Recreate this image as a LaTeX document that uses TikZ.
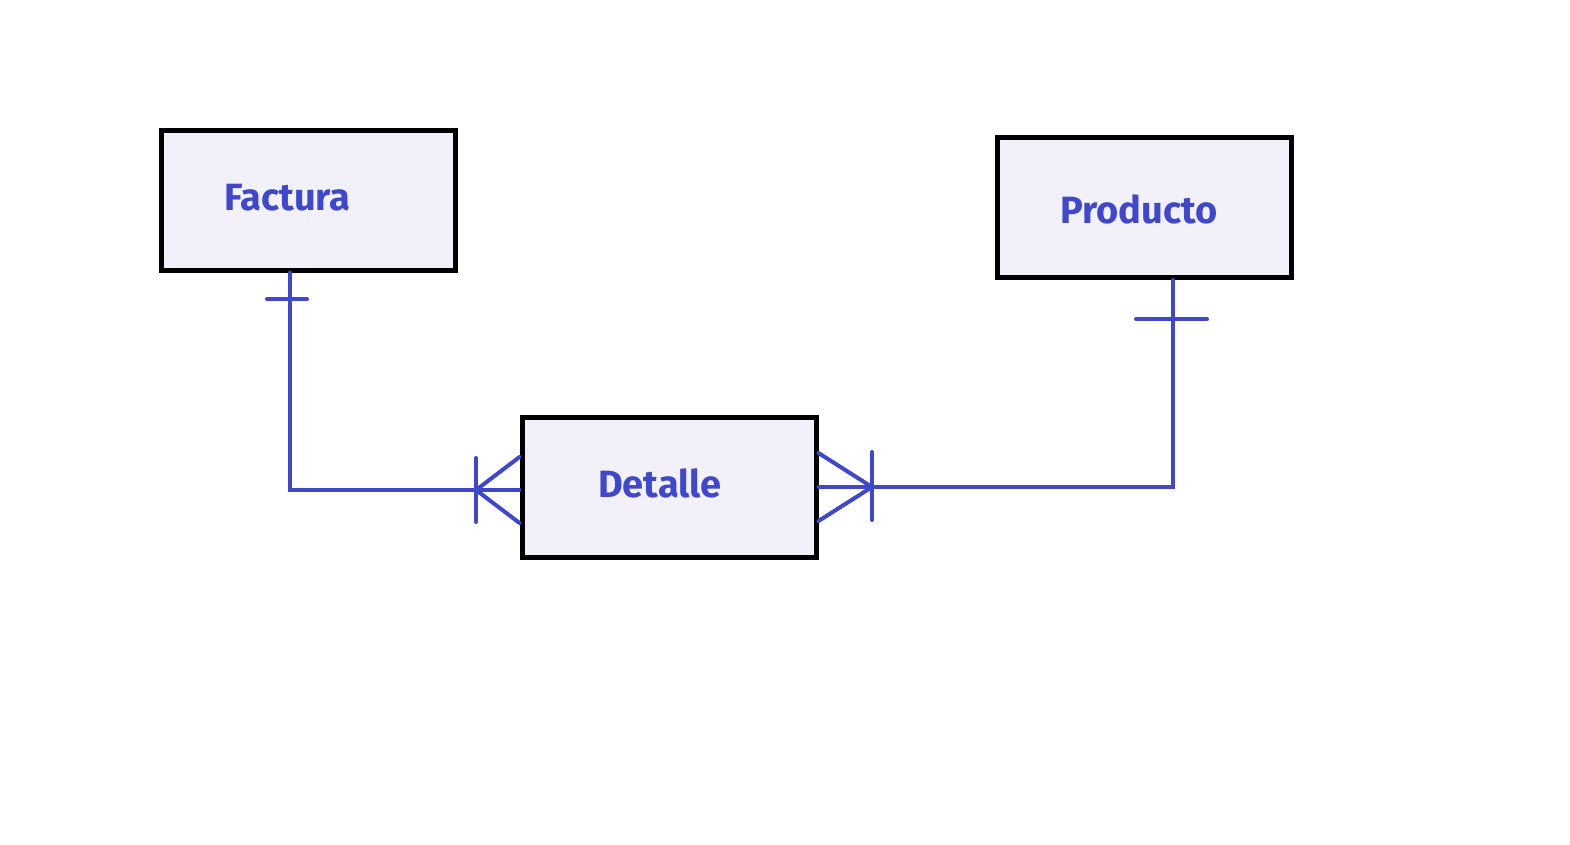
\documentclass[tikz,border=0pt]{standalone}
\usepackage{fontspec}
\setmainfont{Fira Sans}
\definecolor{relblue}{RGB}{63,72,204}
\definecolor{boxfill}{RGB}{242,241,250}
\begin{document}
\begin{tikzpicture}[x=1pt,y=-1pt,
  entity/.style={draw=black, line width=5pt, fill=boxfill, inner sep=0pt,
                 minimum width=294pt, minimum height=140pt},
  entname/.style={anchor=base west, inner sep=0pt, text=relblue,
                  font=\bfseries\fontsize{38}{38}\selectfont},
  rel/.style={draw=relblue, line width=4pt, line cap=round}]
  \useasboundingbox (0,0) rectangle (1570,844);

  % entities
  \node[entity] (fac) at (308,200) {};
  \node[entity] (det) at (669,487) {};
  \node[entity] (pro) at (1144.5,207.5) {};
  \node[entname] (facname) at (224,210) {Factura};
  \node[entname] (detname) at (598,497) {Detalle};
  \node[entname] (proname) at (1060,223) {Producto};

  % Factura (one) -- Detalle (many)
  \coordinate (fbend) at (290,490);
  \coordinate (ftick) at (290,299);
  \coordinate (fbar) at (476,490);
  \draw[rel] (fbend |- fac.south) -- (fbend) -- (det.west |- fbend);
  \draw[rel] ([xshift=-23pt]ftick) -- ([xshift=17pt]ftick);
  \draw[rel] ([yshift=32pt]fbar) -- ([yshift=-32pt]fbar);
  \draw[rel] (fbar) -- ([yshift=33pt]det.west |- fbar);
  \draw[rel] (fbar) -- ([yshift=-33pt]det.west |- fbar);

  % Producto (one) -- Detalle (many)
  \coordinate (pbend) at (1173,487);
  \coordinate (ptick) at (1173,319);
  \coordinate (pbar) at (872,487);
  \draw[rel] (pbend |- pro.south) -- (pbend) -- (det.east |- pbend);
  \draw[rel] ([xshift=-37pt]ptick) -- ([xshift=34pt]ptick);
  \draw[rel] ([yshift=35pt]pbar) -- ([yshift=-33pt]pbar);
  \draw[rel] (pbar) -- ([yshift=34pt]det.east |- pbar);
  \draw[rel] (pbar) -- ([yshift=-34pt]det.east |- pbar);
\end{tikzpicture}
\end{document}
